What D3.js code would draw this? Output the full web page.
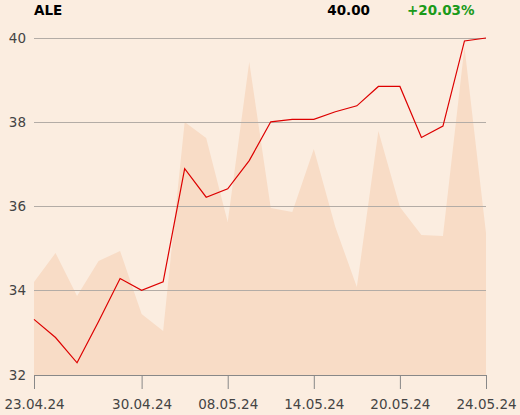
<!DOCTYPE html>
<html><head><meta charset="utf-8">
<script src="https://cdn.jsdelivr.net/npm/d3@7"></script>
<style>
html,body{margin:0;padding:0;background:#fbede0;}
svg{display:block;font-family:"DejaVu Sans",sans-serif;}
</style></head>
<body>
<svg id="c" width="520" height="415"></svg>
<script>
const ticker = "ALE";
const lastPrice = "40.00";
const change = "+20.03%";
const dates = ["23.04.24","24.04.24","25.04.24","26.04.24","29.04.24","30.04.24","02.05.24","03.05.24","06.05.24","08.05.24","09.05.24","10.05.24","13.05.24","14.05.24","15.05.24","16.05.24","17.05.24","20.05.24","21.05.24","22.05.24","23.05.24","24.05.24"];
const prices = [33.32,32.89,32.29,33.27,34.29,34.01,34.21,36.90,36.22,36.42,37.09,38.01,38.07,38.07,38.25,38.39,38.85,38.85,37.64,37.91,39.93,40.00];
const volumes = [93,122,79,114,124,61,44,253,237,153,313,167,163,226,148,88,244,168,140,139,328,142];
const yTicks = [32,34,36,38,40];
const xTickLabels = ["23.04.24","30.04.24","08.05.24","14.05.24","20.05.24","24.05.24"];

const svg = d3.select("#c");
const L = 34, R = 486, T = 38, B = 375;

const x = d3.scalePoint().domain(dates).range([L, R]);
const y = d3.scaleLinear().domain([32, 40]).range([B, T]);
const yV = d3.scaleLinear().domain([0, 337]).range([B, T]);

// volume area
svg.append("path")
  .datum(volumes)
  .attr("fill", "#f8dcc6")
  .attr("d", d3.area().x((d,i)=>x(dates[i])).y0(B).y1(d=>yV(d)));

// grid
svg.append("g").selectAll("line").data(yTicks).join("line")
  .attr("x1", L).attr("x2", R)
  .attr("y1", d=>y(d)).attr("y2", d=>y(d))
  .attr("stroke", "#b3aca6").attr("stroke-width", 1)
  .attr("shape-rendering","crispEdges");

// y labels
svg.append("g").selectAll("text").data(yTicks).join("text")
  .attr("x", 26).attr("y", d=>y(d)).attr("dy","0.35em")
  .attr("text-anchor","end").attr("font-size", 13.5).attr("fill","#444")
  .text(d=>d);

// x axis
const xAxis = d3.axisBottom(x).tickValues(xTickLabels).tickSize(14).tickPadding(10).tickSizeOuter(0);
const gx = svg.append("g").attr("transform", `translate(0,${B})`).call(xAxis);
gx.select(".domain").attr("stroke","#888");
gx.selectAll(".tick line").attr("stroke","#888");
gx.selectAll(".tick text").attr("font-size",13.5).attr("fill","#444").attr("font-family","DejaVu Sans, sans-serif");

// price line
svg.append("path")
  .datum(prices)
  .attr("fill","none").attr("stroke","#dd0000").attr("stroke-width",1.2)
  .attr("d", d3.line().x((d,i)=>x(dates[i])).y(d=>y(d)));

// header
svg.append("text").attr("x",34).attr("y",14.5).attr("font-size",13.5).attr("font-weight","bold").attr("fill","#000").text(ticker);
svg.append("text").attr("x",370).attr("y",14.5).attr("text-anchor","end").attr("font-size",13.5).attr("font-weight","bold").attr("fill","#000").text(lastPrice);
svg.append("text").attr("x",474.5).attr("y",14.5).attr("text-anchor","end").attr("font-size",13.5).attr("font-weight","bold").attr("fill","#1a9a1a").text(change);
</script>
</body></html>
